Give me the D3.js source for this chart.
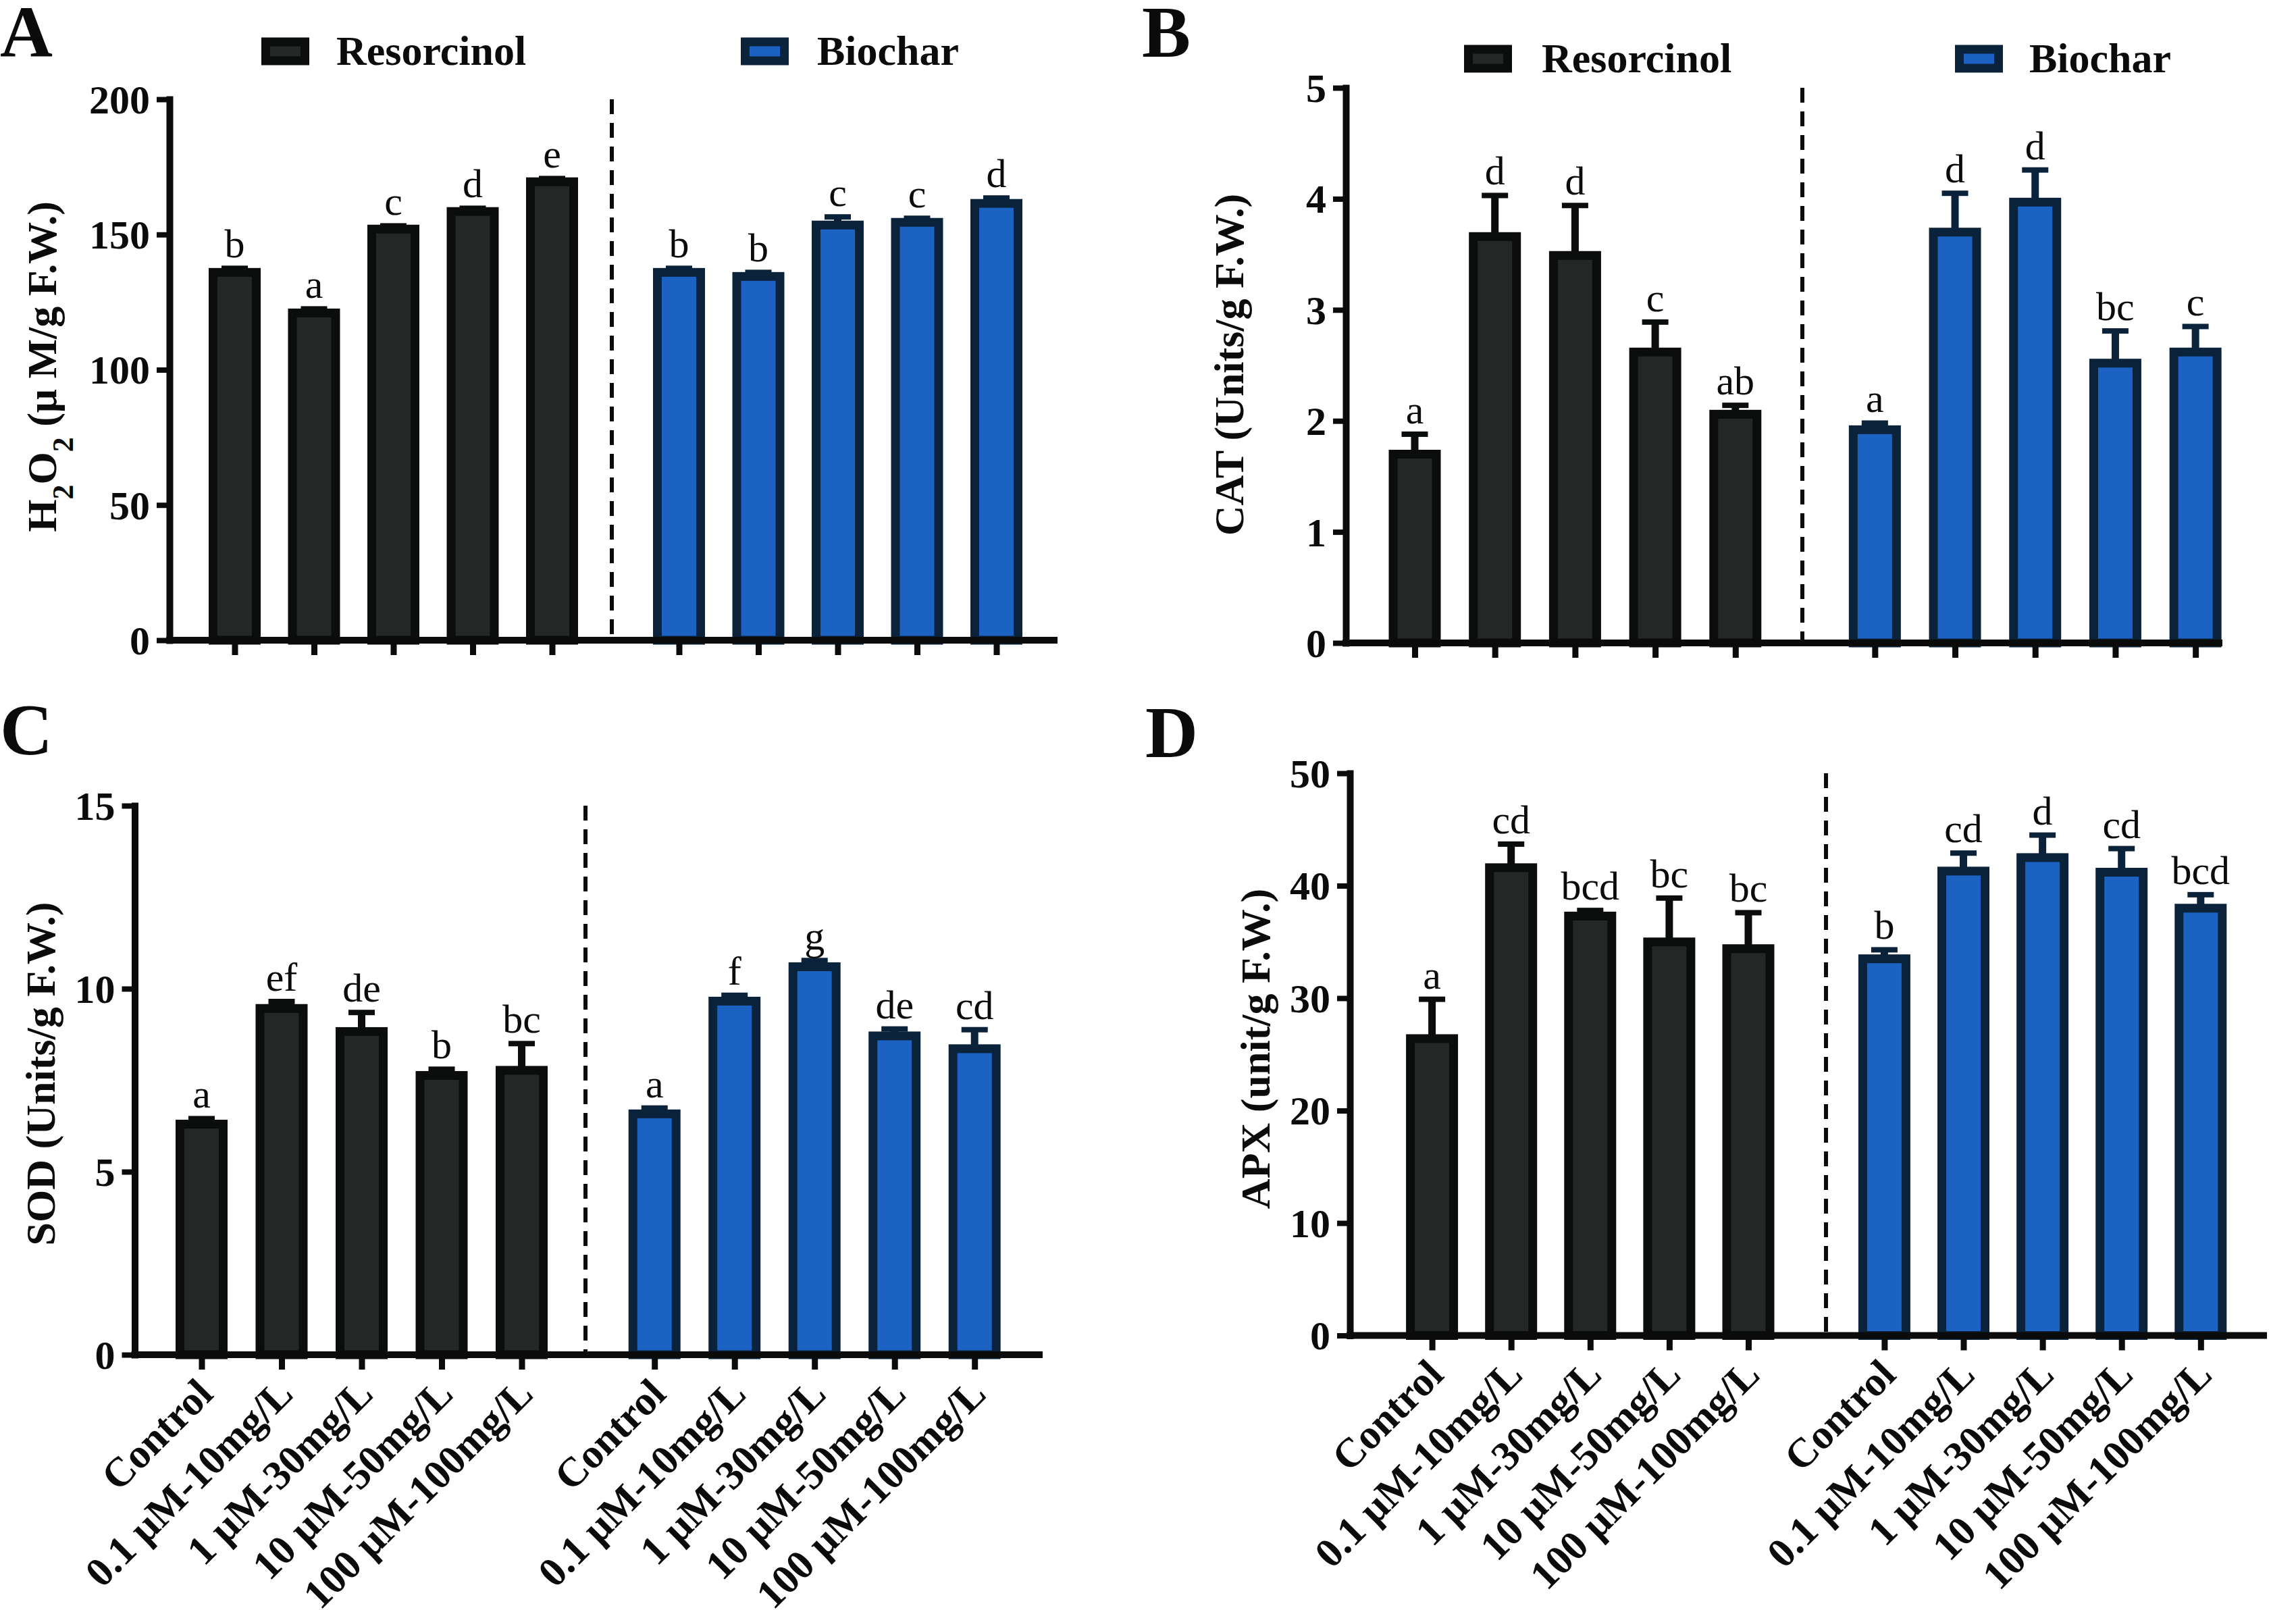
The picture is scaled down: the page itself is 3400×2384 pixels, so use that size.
<!DOCTYPE html>
<html>
<head>
<meta charset="utf-8">
<script src="https://cdn.jsdelivr.net/npm/d3@7"></script>
<style>
  body { margin: 0; background: #fff; }
  text { font-family: "Liberation Serif", "Times New Roman", serif; }
</style>
</head>
<body>
<script>
// ---- data ----
const categories = ["Control", "0.1 μM-10mg/L", "1 μM-30mg/L", "10 μM-50mg/L", "100 μM-100mg/L"];
const seriesNames = ["Resorcinol", "Biochar"];

// A: H2O2
const h2o2Res = [136, 121, 152, 158.5, 169.5];
const h2o2ResErr = [1.5, 1.5, 1.2, 1.2, 1.2];
const h2o2ResSig = ["b", "a", "c", "d", "e"];
const h2o2Bio = [136, 134.5, 153.5, 154.5, 161.5];
const h2o2BioErr = [1.5, 1.5, 3, 1.5, 2];
const h2o2BioSig = ["b", "b", "c", "c", "d"];
const h2o2Ticks = [0, 50, 100, 150, 200];

// B: CAT
const catRes = [1.70, 3.66, 3.49, 2.62, 2.06];
const catResErr = [0.18, 0.37, 0.45, 0.27, 0.08];
const catResSig = ["a", "d", "d", "c", "ab"];
const catBio = [1.92, 3.70, 3.97, 2.52, 2.62];
const catBioErr = [0.06, 0.35, 0.29, 0.29, 0.23];
const catBioSig = ["a", "d", "d", "bc", "c"];
const catTicks = [0, 1, 2, 3, 4, 5];

// C: SOD
const sodRes = [6.3, 9.46, 8.83, 7.63, 7.77];
const sodResErr = [0.15, 0.19, 0.52, 0.17, 0.73];
const sodResSig = ["a", "ef", "de", "b", "bc"];
const sodBio = [6.58, 9.66, 10.6, 8.71, 8.36];
const sodBioErr = [0.16, 0.16, 0.17, 0.19, 0.52];
const sodBioSig = ["a", "f", "g", "de", "cd"];
const sodTicks = [0, 5, 10, 15];

// D: APX
const apxRes = [26.4, 41.6, 37.3, 35.0, 34.4];
const apxResErr = [3.5, 2.1, 0.5, 3.9, 3.2];
const apxResSig = ["a", "cd", "bcd", "bc", "bc"];
const apxBio = [33.5, 41.3, 42.5, 41.2, 38.0];
const apxBioErr = [0.8, 1.6, 2.0, 2.1, 1.2];
const apxBioSig = ["b", "cd", "d", "cd", "bcd"];
const apxTicks = [0, 10, 20, 30, 40, 50];

// ---- styling ----
const fills = ["#232726", "#1c62c3"];
const strokes = ["#0b0d0c", "#0b233a"];
const ink = "#0b0b0b";

const svg = d3.select("body").append("svg")
  .attr("width", 3400).attr("height", 2384)
  .style("background", "#fff");

const panels = [
  {
    letter: "A", lx: 0, ly: 84,
    title: [["H", null], ["2", "sub"], ["O", null], ["2", "sub"], [" (μ M/g F.W.)", null]],
    tx: 83, ty: 543,
    yMax: 200, ticks: h2o2Ticks,
    series: [[h2o2Res, h2o2ResErr, h2o2ResSig], [h2o2Bio, h2o2BioErr, h2o2BioSig]],
    axisX: 251, top: 147, zero: 948, first: 347.5, spacing: 117.5, gap: 1.6, end: 1566, divider: 906,
    legend: { cy: 76, box: [387, 1097], text: [498, 1210] }, labels: false
  },
  {
    letter: "B", lx: 1691, ly: 84,
    title: [["CAT (Units/g F.W.)", null]],
    tx: 1841, ty: 540,
    yMax: 5, ticks: catTicks,
    series: [[catRes, catResErr, catResSig], [catBio, catBioErr, catBioSig]],
    axisX: 1993, top: 130, zero: 952, first: 2095, spacing: 118.7, gap: 1.74, end: 3291, divider: 2669,
    legend: { cy: 87, box: [2168, 2895], text: [2283, 3005] }, labels: false
  },
  {
    letter: "C", lx: 0, ly: 1117,
    title: [["SOD (Units/g F.W.)", null]],
    tx: 81, ty: 1590,
    yMax: 15, ticks: sodTicks,
    series: [[sodRes, sodResErr, sodResSig], [sodBio, sodBioErr, sodBioSig]],
    axisX: 199.5, top: 1193, zero: 2006, first: 298.5, spacing: 118.5, gap: 1.66, end: 1544, divider: 867,
    legend: null, labels: true
  },
  {
    letter: "D", lx: 1696, ly: 1121,
    title: [["APX (unit/g F.W.)", null]],
    tx: 1880, ty: 1553,
    yMax: 50, ticks: apxTicks,
    series: [[apxRes, apxResErr, apxResSig], [apxBio, apxBioErr, apxBioSig]],
    axisX: 1999, top: 1145, zero: 1977.5, first: 2120.6, spacing: 117.1, gap: 1.72, end: 3357, divider: 2704,
    legend: null, labels: true
  }
];

panels.forEach(drawPanel);

function drawPanel(p) {
  const g = svg.append("g");
  const span = 8 + p.gap;
  const y = d3.scaleLinear().domain([0, p.yMax]).range([p.zero, p.top]);
  const x = d3.scaleLinear().domain([0, span]).range([p.first, p.first + span * p.spacing]);
  const idx = (s, i) => s === 0 ? i : 4 + p.gap + i;
  const tickVals = [0, 1, 2, 3, 4].concat([0, 1, 2, 3, 4].map(i => 4 + p.gap + i));

  // panel letter
  g.append("text").attr("x", p.lx).attr("y", p.ly)
    .attr("font-size", 108).attr("font-weight", "bold").attr("fill", ink)
    .text(p.letter);

  // y title
  const t = g.append("text")
    .attr("transform", `translate(${p.tx},${p.ty}) rotate(-90)`)
    .attr("text-anchor", "middle")
    .attr("font-size", 62).attr("font-weight", "bold").attr("fill", ink);
  p.title.forEach(([s, kind]) => {
    const ts = t.append("tspan").text(s);
    if (kind === "sub") ts.attr("baseline-shift", "sub").attr("font-size", 44);
  });

  // divider
  g.append("line")
    .attr("x1", p.divider).attr("x2", p.divider)
    .attr("y1", p.top).attr("y2", p.zero)
    .attr("stroke", ink).attr("stroke-width", 6)
    .attr("stroke-dasharray", "22,13");

  // bars
  p.series.forEach(([vals, errs, sig], s) => {
    const sg = g.append("g");
    vals.forEach((v, i) => {
      const cx = x(idx(s, i));
      const yTop = y(v + errs[i]);
      sg.append("line")
        .attr("x1", cx).attr("x2", cx)
        .attr("y1", y(v)).attr("y2", yTop)
        .attr("stroke", strokes[s]).attr("stroke-width", 11);
      sg.append("rect")
        .attr("x", cx - 19.5).attr("y", yTop - 4)
        .attr("width", 39).attr("height", 8)
        .attr("fill", strokes[s]);
      sg.append("rect")
        .attr("x", cx - 32).attr("y", y(v))
        .attr("width", 64).attr("height", p.zero - y(v))
        .attr("fill", fills[s]).attr("stroke", strokes[s]).attr("stroke-width", 13);
      sg.append("text")
        .attr("x", cx).attr("y", yTop - 16)
        .attr("text-anchor", "middle")
        .attr("font-size", 60).attr("fill", ink)
        .text(sig[i]);
    });
  });

  // y axis
  const ya = g.append("g")
    .attr("transform", `translate(${p.axisX},0)`)
    .call(d3.axisLeft(y).tickValues(p.ticks).tickFormat(d3.format("d"))
      .tickSize(19).tickSizeOuter(0).tickPadding(10));
  ya.select(".domain").attr("stroke", ink).attr("stroke-width", 10).attr("stroke-linecap", "square");
  ya.selectAll(".tick line").attr("stroke", ink).attr("stroke-width", 8);
  ya.selectAll(".tick text")
    .attr("font-family", "Liberation Serif, Times New Roman, serif")
    .attr("font-size", 60).attr("font-weight", "bold").attr("fill", ink)
    .attr("dy", "0.34em");

  // x axis
  const xa = g.append("g")
    .attr("transform", `translate(0,${p.zero})`)
    .call(d3.axisBottom(x).tickValues(tickVals).tickSize(22).tickSizeOuter(0)
      .tickFormat((d, i) => p.labels ? categories[i % 5] : ""));
  xa.select(".domain").remove();
  xa.selectAll(".tick line").attr("stroke", ink).attr("stroke-width", 9);
  xa.append("line")
    .attr("x1", p.axisX - 5).attr("x2", p.end)
    .attr("y1", 0).attr("y2", 0)
    .attr("stroke", ink).attr("stroke-width", 10);
  xa.selectAll(".tick text")
    .attr("font-family", "Liberation Serif, Times New Roman, serif")
    .attr("font-size", 61).attr("font-weight", "bold").attr("fill", ink)
    .attr("text-anchor", "end")
    .attr("x", 0).attr("y", 0).attr("dy", "0.68em")
    .attr("transform", "translate(-10,32) rotate(-45)");

  // legend
  if (p.legend) {
    seriesNames.forEach((name, s) => {
      g.append("rect")
        .attr("x", p.legend.box[s] + 6.5).attr("y", p.legend.cy - 14)
        .attr("width", 58).attr("height", 28)
        .attr("fill", fills[s]).attr("stroke", strokes[s]).attr("stroke-width", 13);
      g.append("text")
        .attr("x", p.legend.text[s]).attr("y", p.legend.cy + 20)
        .attr("font-size", 62).attr("font-weight", "bold").attr("fill", ink)
        .text(name);
    });
  }
}
</script>
</body>
</html>
